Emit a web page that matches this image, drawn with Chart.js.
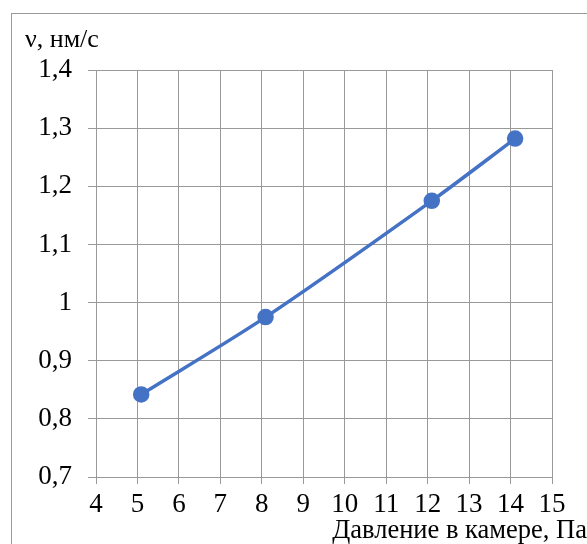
<!DOCTYPE html>
<html>
<head>
<meta charset="utf-8">
<script src="https://cdn.jsdelivr.net/npm/chart.js@4"></script>
<style>
    html, body { margin: 0; padding: 0; overflow: hidden; background: #fff; }
    #wrap { position: relative; width: 587px; height: 544px; }
    #frame { position: absolute; left: 11px; top: 13px; width: 620px; height: 620px; border: 1px solid #9a9a9a; box-sizing: border-box; }
    canvas { position: absolute; left: 0; top: 0; }
    .title { position: absolute; font-family: "Liberation Serif", "Times New Roman", serif; color: #000; white-space: nowrap; }
    #ytitle { left: 25px; top: 24px; font-size: 26px; }
    #xtitle { right: 0px; top: 514px; font-size: 26.5px; }
</style>
</head>
<body>
<div id="wrap">
    <div id="frame"></div>
    <canvas id="myChart" width="587" height="544"></canvas>
    <div class="title" id="ytitle">ν, нм/с</div>
    <div class="title" id="xtitle">Давление в камере, Па</div>
</div>
<script>
// data
var pressure = [5.09, 8.09, 12.1, 14.11];
var velocity = [0.842, 0.975, 1.175, 1.282];

var points = pressure.map(function(p, i) {
    return { x: p, y: velocity[i] };
});

var gridColor = '#999999';

// 1,4 instead of 1.4
function commaLabel(value) {
    var v = Math.round(value * 10) / 10;
    return String(v).replace('.', ',');
}

var ctx = document.getElementById('myChart').getContext('2d');
var myChart = new Chart(ctx, {
    type: 'scatter',
    data: {
        datasets: [{
            data: points,
            showLine: true,
            tension: 0.3,
            borderColor: '#4472C4',
            backgroundColor: '#4472C4',
            borderWidth: 3.5,
            pointRadius: 6.5,
            pointHoverRadius: 6.5
        }]
    },
    options: {
        responsive: false,
        animation: false,
        layout: {
            padding: { left: 0, top: 70, right: 35, bottom: 0 }
        },
        plugins: {
            legend: { display: false },
            tooltip: { enabled: false }
        },
        scales: {
            x: {
                type: 'linear',
                min: 4,
                max: 15,
                afterFit: function(scale) { scale.height = 67; },
                ticks: {
                    stepSize: 1,
                    padding: 5,
                    color: '#000',
                    font: { family: '"Liberation Serif", serif', size: 27 }
                },
                grid: { color: gridColor, lineWidth: 1, tickLength: 7 },
                border: { color: gridColor }
            },
            y: {
                min: 0.7,
                max: 1.4,
                afterFit: function(scale) { scale.width = 96; },
                ticks: {
                    stepSize: 0.1,
                    padding: 16,
                    color: '#000',
                    font: { family: '"Liberation Serif", serif', size: 27 },
                    callback: commaLabel
                },
                grid: { color: gridColor, lineWidth: 1, tickLength: 8 },
                border: { color: gridColor }
            }
        }
    }
});
</script>
</body>
</html>
